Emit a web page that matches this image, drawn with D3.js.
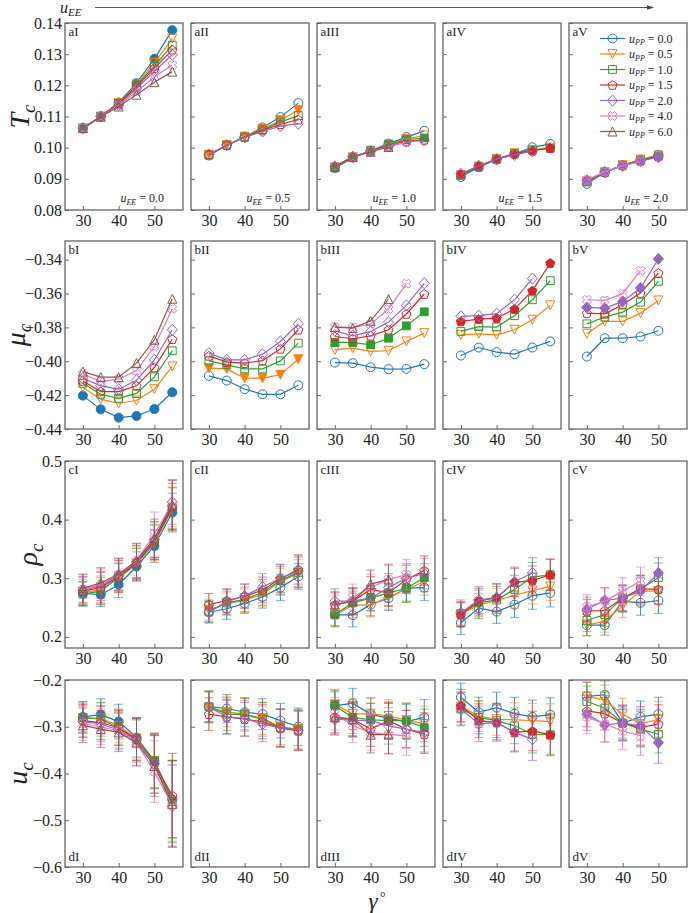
<!DOCTYPE html>
<html><head><meta charset="utf-8">
<script src="https://cdn.jsdelivr.net/npm/d3@7"></script>
<style>
body{margin:0;background:#fff}
svg{display:block}
text{font-family:"Liberation Serif","DejaVu Serif",serif;fill:#222}
</style>
</head><body>
<svg id="chart" width="689" height="913"></svg>
<script>
// ---------------- DATA ----------------
const gammaDeg = [30, 35, 40, 45, 50, 55];
const gammaTicks = [30, 40, 50];
const uPPLabels = ["0.0", "0.5", "1.0", "1.5", "2.0", "4.0", "6.0"];
const uEELabels = ["0.0", "0.5", "1.0", "1.5", "2.0"];
const numerals = ["I", "II", "III", "IV", "V"];

const TcTicks = [0.08, 0.09, 0.10, 0.11, 0.12, 0.13, 0.14];
const muTicks = [-0.44, -0.42, -0.40, -0.38, -0.36, -0.34];
const rhoTicks = [0.2, 0.3, 0.4, 0.5];
const ucTicks = [-0.6, -0.5, -0.4, -0.3, -0.2];

// T_c  (series order: uPP = 0.0,0.5,1.0,1.5,2.0,4.0,6.0; null = not computed)
const Tc_I = [
  [0.1062,0.1100,0.1145,0.1207,0.1285,0.1377],
  [0.1062,0.1100,0.1143,0.1203,0.1272,0.1350],
  [0.1061,0.1100,0.1142,0.1200,0.1262,0.1329],
  [0.1062,0.1100,0.1140,0.1195,0.1255,0.1314],
  [0.1063,0.1100,0.1137,0.1190,0.1245,0.1298],
  [0.1063,0.1100,0.1135,0.1180,0.1227,0.1265],
  [0.1063,0.1099,0.1132,0.1170,0.1210,0.1244]];
const Tc_II = [
  [0.0975,0.1008,0.1035,0.1065,0.1098,0.1143],
  [0.0977,0.1008,0.1035,0.1060,0.1088,0.1120],
  [0.0976,0.1008,0.1034,0.1058,0.1082,0.1103],
  [0.0978,0.1008,0.1034,0.1055,0.1075,0.1090],
  [0.0978,0.1008,0.1033,0.1052,0.1069,0.1077], null, null];
const Tc_III = [
  [0.0935,0.0968,0.0991,0.1013,0.1034,0.1054],
  [0.0937,0.0969,0.0990,0.1010,0.1028,0.1039],
  [0.0935,0.0968,0.0990,0.1010,0.1026,0.1031],
  [0.0938,0.0970,0.0989,0.1006,0.1021,0.1025],
  [0.0940,0.0971,0.0988,0.1004,0.1019,0.1023],
  [0.0940,0.0971,0.0988,0.1003,0.1018],
  [0.0940,0.0971,0.0987,0.1002]];
const Tc_IV = [
  [0.0906,0.0937,0.0962,0.0980,0.1001,0.1012],
  [0.0912,0.0939,0.0963,0.0982,0.0993,0.1000],
  [0.0910,0.0938,0.0963,0.0981,0.0992,0.0998],
  [0.0915,0.0941,0.0964,0.0980,0.0990,0.0999],
  [0.0916,0.0942,0.0963,0.0977,0.0989], null, null];
const Tc_V = [
  [0.0884,0.0920,0.0943,0.0960,0.0977],
  [0.0892,0.0921,0.0944,0.0962,0.0975],
  [0.0890,0.0921,0.0943,0.0960,0.0973],
  [0.0893,0.0922,0.0943,0.0958,0.0972],
  [0.0895,0.0922,0.0942,0.0957,0.0970],
  [0.0896,0.0923,0.0942,0.0955], null];

// mu_c
const mu_I = [
  [-0.4203,-0.4284,-0.4333,-0.4323,-0.4282,-0.4183],
  [-0.4155,-0.4224,-0.4248,-0.4232,-0.4165,-0.4031],
  [-0.4130,-0.4195,-0.4219,-0.4190,-0.4092,-0.3938],
  [-0.4116,-0.4179,-0.4179,-0.4145,-0.4037,-0.3870],
  [-0.4100,-0.4145,-0.4165,-0.4112,-0.3992,-0.3814],
  [-0.4075,-0.4120,-0.4106,-0.4055,-0.3913,-0.3690],
  [-0.4061,-0.4094,-0.4094,-0.4011,-0.3873,-0.3631]];
const mu_II = [
  [-0.4086,-0.4114,-0.4165,-0.4195,-0.4195,-0.4142],
  [-0.4041,-0.4045,-0.4100,-0.4100,-0.4080,-0.3988],
  [-0.3998,-0.4021,-0.4045,-0.4045,-0.3998,-0.3893],
  [-0.3968,-0.4005,-0.4011,-0.3996,-0.3927,-0.3814],
  [-0.3952,-0.3992,-0.3992,-0.3958,-0.3883,-0.3779], null, null];
const mu_III = [
  [-0.4008,-0.4011,-0.4035,-0.4047,-0.4045,-0.4017],
  [-0.3933,-0.3923,-0.3942,-0.3938,-0.3883,-0.3834],
  [-0.3889,-0.3889,-0.3903,-0.3864,-0.3791,-0.3708],
  [-0.3854,-0.3867,-0.3850,-0.3814,-0.3721,-0.3603],
  [-0.3820,-0.3850,-0.3824,-0.3769,-0.3670,-0.3540],
  [-0.3798,-0.3800,-0.3780,-0.3692,-0.3542],
  [-0.3798,-0.3804,-0.3761,-0.3633]];
const mu_IV = [
  [-0.3966,-0.3919,-0.3946,-0.3958,-0.3919,-0.3883],
  [-0.3844,-0.3838,-0.3844,-0.3814,-0.3755,-0.3670],
  [-0.3824,-0.3796,-0.3798,-0.3731,-0.3637,-0.3524],
  [-0.3765,-0.3751,-0.3745,-0.3692,-0.3583,-0.3420],
  [-0.3735,-0.3731,-0.3719,-0.3637,-0.3512], null, null];
const mu_V = [
  [-0.3972,-0.3864,-0.3864,-0.3854,-0.3820],
  [-0.3838,-0.3765,-0.3765,-0.3716,-0.3641],
  [-0.3779,-0.3739,-0.3710,-0.3651,-0.3528],
  [-0.3716,-0.3720,-0.3666,-0.3597,-0.3479],
  [-0.3682,-0.3686,-0.3647,-0.3568,-0.3396],
  [-0.3637,-0.3641,-0.3601,-0.3465], null];

// rho_c and its error bars
const rho_I = [
  [0.274,0.272,0.289,0.320,0.355,0.412],
  [0.276,0.280,0.300,0.324,0.360,0.418],
  [0.273,0.278,0.302,0.325,0.362,0.420],
  [0.278,0.284,0.303,0.326,0.364,0.422],
  [0.280,0.287,0.305,0.328,0.366,0.430],
  [0.281,0.289,0.306,0.330,0.375,0.428],
  [0.283,0.292,0.307,0.330,0.368,0.425]];
const rhoErr_I = [
  [0.020,0.020,0.022,0.025,0.028,0.033],
  [0.022,0.024,0.025,0.027,0.030,0.036],
  [0.021,0.023,0.024,0.026,0.030,0.035],
  [0.024,0.026,0.027,0.029,0.032,0.040],
  [0.023,0.025,0.026,0.028,0.031,0.038],
  [0.025,0.027,0.028,0.030,0.038,0.040],
  [0.024,0.026,0.027,0.029,0.033,0.042]];
const rho_II = [
  [0.242,0.248,0.257,0.268,0.284,0.303],
  [0.246,0.256,0.262,0.273,0.294,0.308],
  [0.244,0.258,0.264,0.276,0.296,0.310],
  [0.255,0.262,0.269,0.280,0.299,0.315],
  [0.242,0.260,0.270,0.285,0.300,0.312], null, null];
const rhoErr_II = [
  [0.018,0.018,0.017,0.019,0.022,0.022],
  [0.017,0.019,0.020,0.021,0.023,0.024],
  [0.018,0.020,0.021,0.022,0.024,0.026],
  [0.019,0.020,0.021,0.022,0.024,0.025],
  [0.018,0.021,0.020,0.023,0.024,0.026], null, null];
const rho_III = [
  [0.238,0.237,0.255,0.266,0.283,0.284],
  [0.237,0.254,0.254,0.268,0.281,0.294],
  [0.238,0.258,0.266,0.275,0.283,0.301],
  [0.255,0.261,0.281,0.275,0.298,0.313],
  [0.261,0.261,0.266,0.284,0.300,0.308],
  [0.250,0.268,0.284,0.298,0.306],
  [0.255,0.261,0.290,0.298]];
const rhoErr_III = [
  [0.020,0.020,0.019,0.021,0.022,0.022],
  [0.020,0.021,0.020,0.021,0.022,0.023],
  [0.019,0.020,0.021,0.022,0.024,0.024],
  [0.020,0.021,0.022,0.023,0.024,0.025],
  [0.021,0.022,0.022,0.024,0.025,0.026],
  [0.021,0.022,0.023,0.024,0.026],
  [0.022,0.023,0.024,0.026]];
const rho_IV = [
  [0.224,0.249,0.243,0.255,0.270,0.275],
  [0.239,0.254,0.262,0.271,0.279,0.286],
  [0.239,0.258,0.263,0.281,0.302,0.306],
  [0.238,0.261,0.267,0.293,0.296,0.306],
  [0.241,0.263,0.267,0.294,0.309], null, null];
const rhoErr_IV = [
  [0.020,0.018,0.020,0.022,0.023,0.024],
  [0.019,0.020,0.021,0.022,0.023,0.024],
  [0.021,0.022,0.023,0.024,0.025,0.026],
  [0.021,0.022,0.023,0.024,0.025,0.027],
  [0.022,0.023,0.024,0.025,0.026], null, null];
const rho_V = [
  [0.220,0.220,0.261,0.258,0.262],
  [0.220,0.227,0.253,0.278,0.278],
  [0.228,0.238,0.266,0.282,0.301],
  [0.244,0.245,0.266,0.282,0.281],
  [0.247,0.262,0.266,0.278,0.309],
  [0.251,0.261,0.278,0.295], null];
const rhoErr_V = [
  [0.018,0.017,0.019,0.021,0.022],
  [0.018,0.019,0.020,0.022,0.023],
  [0.019,0.020,0.021,0.023,0.025],
  [0.020,0.021,0.022,0.023,0.025],
  [0.021,0.022,0.023,0.024,0.026],
  [0.021,0.022,0.023,0.024], null];

// u_c and its error bars
const uc_I = [
  [-0.279,-0.274,-0.289,-0.323,-0.373,-0.455],
  [-0.282,-0.282,-0.298,-0.325,-0.373,-0.459],
  [-0.280,-0.284,-0.302,-0.327,-0.373,-0.460],
  [-0.287,-0.291,-0.302,-0.327,-0.380,-0.447],
  [-0.289,-0.294,-0.307,-0.329,-0.379,-0.470],
  [-0.293,-0.300,-0.309,-0.334,-0.396,-0.468],
  [-0.297,-0.305,-0.312,-0.334,-0.384,-0.465]];
const ucErr_I = [
  [0.032,0.034,0.037,0.042,0.058,0.083],
  [0.031,0.033,0.036,0.044,0.060,0.086],
  [0.034,0.036,0.037,0.045,0.058,0.088],
  [0.035,0.036,0.038,0.046,0.062,0.090],
  [0.034,0.037,0.039,0.047,0.063,0.088],
  [0.036,0.038,0.040,0.048,0.066,0.087],
  [0.037,0.039,0.041,0.050,0.065,0.092]];
const uc_II = [
  [-0.257,-0.261,-0.269,-0.273,-0.287,-0.300],
  [-0.259,-0.268,-0.273,-0.282,-0.300,-0.305],
  [-0.257,-0.273,-0.274,-0.284,-0.302,-0.307],
  [-0.273,-0.279,-0.284,-0.289,-0.303,-0.309],
  [-0.257,-0.279,-0.282,-0.294,-0.303,-0.307], null, null];
const ucErr_II = [
  [0.032,0.030,0.031,0.033,0.037,0.040],
  [0.033,0.032,0.033,0.034,0.038,0.041],
  [0.034,0.035,0.035,0.036,0.040,0.042],
  [0.035,0.036,0.036,0.037,0.040,0.042],
  [0.033,0.037,0.038,0.038,0.041,0.043], null, null];
const uc_III = [
  [-0.255,-0.250,-0.273,-0.282,-0.289,-0.280],
  [-0.252,-0.273,-0.272,-0.277,-0.286,-0.294],
  [-0.255,-0.280,-0.285,-0.287,-0.287,-0.302],
  [-0.279,-0.284,-0.305,-0.287,-0.305,-0.316],
  [-0.284,-0.286,-0.287,-0.298,-0.305,-0.312],
  [-0.272,-0.298,-0.312,-0.317,-0.319],
  [-0.280,-0.284,-0.317,-0.317]];
const ucErr_III = [
  [0.030,0.032,0.034,0.035,0.037,0.038],
  [0.032,0.033,0.034,0.035,0.036,0.038],
  [0.033,0.034,0.035,0.037,0.038,0.040],
  [0.034,0.035,0.037,0.038,0.040,0.041],
  [0.034,0.036,0.037,0.039,0.040,0.042],
  [0.035,0.036,0.038,0.040,0.042],
  [0.036,0.037,0.039,0.041]];
const uc_IV = [
  [-0.237,-0.269,-0.259,-0.272,-0.279,-0.274],
  [-0.257,-0.277,-0.284,-0.285,-0.287,-0.289],
  [-0.262,-0.280,-0.287,-0.298,-0.316,-0.317],
  [-0.255,-0.287,-0.291,-0.312,-0.309,-0.317],
  [-0.262,-0.294,-0.291,-0.312,-0.327], null, null];
const ucErr_IV = [
  [0.030,0.032,0.033,0.035,0.036,0.036],
  [0.032,0.033,0.034,0.036,0.037,0.038],
  [0.034,0.035,0.036,0.038,0.040,0.042],
  [0.035,0.036,0.037,0.040,0.042,0.045],
  [0.036,0.038,0.040,0.042,0.045], null, null];
const uc_V = [
  [-0.235,-0.232,-0.292,-0.279,-0.273],
  [-0.235,-0.243,-0.273,-0.294,-0.284],
  [-0.246,-0.260,-0.292,-0.305,-0.316],
  [-0.266,-0.272,-0.292,-0.302,-0.294],
  [-0.273,-0.296,-0.292,-0.298,-0.334],
  [-0.279,-0.294,-0.309,-0.319], null];
const ucErr_V = [
  [0.030,0.030,0.032,0.034,0.036],
  [0.031,0.032,0.034,0.036,0.038],
  [0.033,0.034,0.036,0.038,0.040],
  [0.034,0.035,0.037,0.039,0.041],
  [0.035,0.037,0.039,0.041,0.044],
  [0.036,0.038,0.040,0.042], null];

// ---------------- LAYOUT / STYLE ----------------
const colors = ["#1f77b4","#ff7f0e","#2ca02c","#d62728","#9467bd","#e377c2","#8c564b"];
const frameColor = "#666";
const colLeft = [65, 191, 317, 443, 569];
const panelW = 118;
const rowBox = [[23, 210], [241, 429], [461, 648], [680, 867]];

const rows = [
  {letter: "a", data: [Tc_I, Tc_II, Tc_III, Tc_IV, Tc_V], err: null,
   domain: [0.08, 0.14], ticks: TcTicks, fmt: d3.format(".2f"), sym: "T", labX: 29},
  {letter: "b", data: [mu_I, mu_II, mu_III, mu_IV, mu_V], err: null,
   domain: [-0.44, -0.329], ticks: muTicks, fmt: d3.format(".2f"), sym: "μ", labX: 25},
  {letter: "c", data: [rho_I, rho_II, rho_III, rho_IV, rho_V],
   err: [rhoErr_I, rhoErr_II, rhoErr_III, rhoErr_IV, rhoErr_V],
   domain: [0.181, 0.5], ticks: rhoTicks, fmt: d3.format(".1f"), sym: "ρ", labX: 37},
  {letter: "d", data: [uc_I, uc_II, uc_III, uc_IV, uc_V],
   err: [ucErr_I, ucErr_II, ucErr_III, ucErr_IV, ucErr_V],
   domain: [-0.6, -0.2], ticks: ucTicks, fmt: d3.format(".1f"), sym: "u", labX: 27}
];

function markerPath(k) {
  const s = 4.5;
  const poly = pts => "M" + pts.map(p => p[0].toFixed(2) + "," + p[1].toFixed(2)).join("L") + "Z";
  switch (k) {
    case 0: return `M${s},0A${s},${s} 0 1,1 ${-s},0A${s},${s} 0 1,1 ${s},0Z`;
    case 1: return poly([[0, s], [-s, -s], [s, -s]]);
    case 2: { const h = 3.9; return poly([[-h,-h],[h,-h],[h,h],[-h,h]]); }
    case 3: { const pts = d3.range(5).map(i => { const a = -Math.PI/2 + i*2*Math.PI/5; return [4.8*Math.cos(a), 4.8*Math.sin(a)+0.4]; }); return poly(pts); }
    case 4: { const h = 5.6; return poly([[0,-h],[h*0.9,0],[0,h],[-h*0.9,0]]); }
    case 5: {
      const L = 4.6, t = 1.7;
      const base = [[t,t],[t,L],[-t,L],[-t,t],[-L,t],[-L,-t],[-t,-t],[-t,-L],[t,-L],[t,-t],[L,-t],[L,t]];
      const c = Math.SQRT1_2;
      return poly(base.map(p => [(p[0]-p[1])*c, (p[0]+p[1])*c]));
    }
    case 6: return poly([[0, -s], [-s, s], [s, s]]);
  }
}

const svg = d3.select("#chart");

// ---- header arrow u_EE ----
const head = svg.append("text").attr("x", 60).attr("y", 13)
  .style("font-size", "16px").style("font-style", "italic");
head.append("tspan").text("u");
head.append("tspan").attr("dy", 3).style("font-size", "11px").text("EE");
svg.append("line").attr("x1", 95).attr("x2", 650).attr("y1", 7.5).attr("y2", 7.5)
  .attr("stroke", "#444").attr("stroke-width", 0.9);
svg.append("path").attr("d", "M654,7.5L647,5.2L647,9.8Z").attr("fill", "#444");

// ---- panels ----
rows.forEach((row, ri) => {
  const [top, bottom] = rowBox[ri];
  const y = d3.scaleLinear().domain(row.domain).range([bottom, top]);

  // y label
  const yl = svg.append("text")
    .attr("transform", `translate(${row.labX},${(top + bottom) / 2}) rotate(-90)`)
    .attr("text-anchor", "middle").style("font-size", "28px").style("font-style", "italic");
  yl.append("tspan").text(row.sym);
  yl.append("tspan").attr("dy", 6).style("font-size", "19px").text("c");

  colLeft.forEach((left, ci) => {
    const x = d3.scaleLinear().domain([25, 58]).range([left, left + panelW]);
    const g = svg.append("g");

    // axes (inward ticks)
    const ya = d3.axisLeft(y).tickValues(row.ticks).tickSize(-4).tickPadding(3)
      .tickFormat(ci === 0 ? row.fmt : "");
    const yg = g.append("g").attr("transform", `translate(${left},0)`).call(ya);
    const xa = d3.axisBottom(x).tickValues(gammaTicks).tickSize(-4).tickPadding(5);
    const xg = g.append("g").attr("transform", `translate(0,${bottom})`).call(xa);
    [yg, xg].forEach(a => {
      a.select(".domain").remove();
      a.selectAll(".tick line").attr("stroke", frameColor).attr("stroke-width", 1);
      a.selectAll(".tick text").style("font-size", "16px").attr("fill", "#222")
        .style("font-family", '"Liberation Serif","DejaVu Serif",serif');
    });

    // series
    const panelData = row.data[ci];
    const panelErr = row.err ? row.err[ci] : null;
    panelData.forEach((vals, si) => {
      if (!vals) return;
      const pts = vals.map((v, i) => ({x: gammaDeg[i], y: v, e: panelErr ? panelErr[si][i] : 0}));
      const col = colors[si];
      const sg = g.append("g");
      if (panelErr) {
        sg.selectAll("line.eb").data(pts).join("line")
          .attr("x1", d => x(d.x)).attr("x2", d => x(d.x))
          .attr("y1", d => y(d.y - d.e)).attr("y2", d => y(d.y + d.e))
          .attr("stroke", col).attr("stroke-width", 1).attr("stroke-opacity", 0.85);
        ["-", "+"].forEach(sgn => {
          sg.selectAll(null).data(pts).join("line")
            .attr("x1", d => x(d.x) - 4.5).attr("x2", d => x(d.x) + 4.5)
            .attr("y1", d => y(sgn === "-" ? d.y - d.e : d.y + d.e))
            .attr("y2", d => y(sgn === "-" ? d.y - d.e : d.y + d.e))
            .attr("stroke", col).attr("stroke-width", 1.2).attr("stroke-opacity", 0.5);
        });
      }
      sg.append("path").datum(pts)
        .attr("d", d3.line().x(d => x(d.x)).y(d => y(d.y)))
        .attr("fill", "none").attr("stroke", col).attr("stroke-width", 1.2);
      const filled = si === ci;
      sg.selectAll("path.mk").data(pts).join("path").attr("class", "mk")
        .attr("transform", d => `translate(${x(d.x)},${y(d.y)})`)
        .attr("d", markerPath(si))
        .attr("fill", filled ? col : "none")
        .attr("stroke", col).attr("stroke-width", 1);
    });

    // frame
    g.append("rect").attr("x", left).attr("y", top).attr("width", panelW).attr("height", bottom - top)
      .attr("fill", "none").attr("stroke", frameColor).attr("stroke-width", 1.3);

    // panel label
    g.append("text").attr("x", left + 3.5).attr("y", ri === 3 ? bottom - 6 : top + 13)
      .style("font-size", "13px").text(row.letter + numerals[ci]);

    // u_EE annotation (top row)
    if (ri === 0) {
      const t = g.append("text").attr("x", left + panelW - 19).attr("y", bottom - 8)
        .attr("text-anchor", "end").style("font-size", "12px");
      t.append("tspan").style("font-style", "italic").text("u");
      t.append("tspan").attr("dy", 2.5).style("font-size", "8px").style("font-style", "italic").text("EE");
      t.append("tspan").attr("dy", -2.5).text(" = " + uEELabels[ci]);
    }
  });
});

// ---- legend (inside aV) ----
const lg = svg.append("g");
uPPLabels.forEach((lab, i) => {
  const yy = 38.5 + 15.5 * i;
  lg.append("line").attr("x1", 600).attr("x2", 625).attr("y1", yy).attr("y2", yy)
    .attr("stroke", colors[i]).attr("stroke-width", 1.2);
  lg.append("path").attr("transform", `translate(612.5,${yy})`).attr("d", markerPath(i))
    .attr("fill", "none").attr("stroke", colors[i]).attr("stroke-width", 1);
  const t = lg.append("text").attr("x", 629).attr("y", yy + 4).style("font-size", "12px");
  t.append("tspan").style("font-style", "italic").text("u");
  t.append("tspan").attr("dy", 2.5).style("font-size", "8px").style("font-style", "italic").text("PP");
  t.append("tspan").attr("dy", -2.5).text(" = " + lab);
});

// ---- x label: γ° ----
svg.append("text").attr("x", 373).attr("y", 909).attr("text-anchor", "middle")
  .style("font-size", "23px").style("font-style", "italic").text("γ");
svg.append("text").attr("x", 380).attr("y", 902)
  .style("font-size", "14px").text("°");
</script>
</body></html>
